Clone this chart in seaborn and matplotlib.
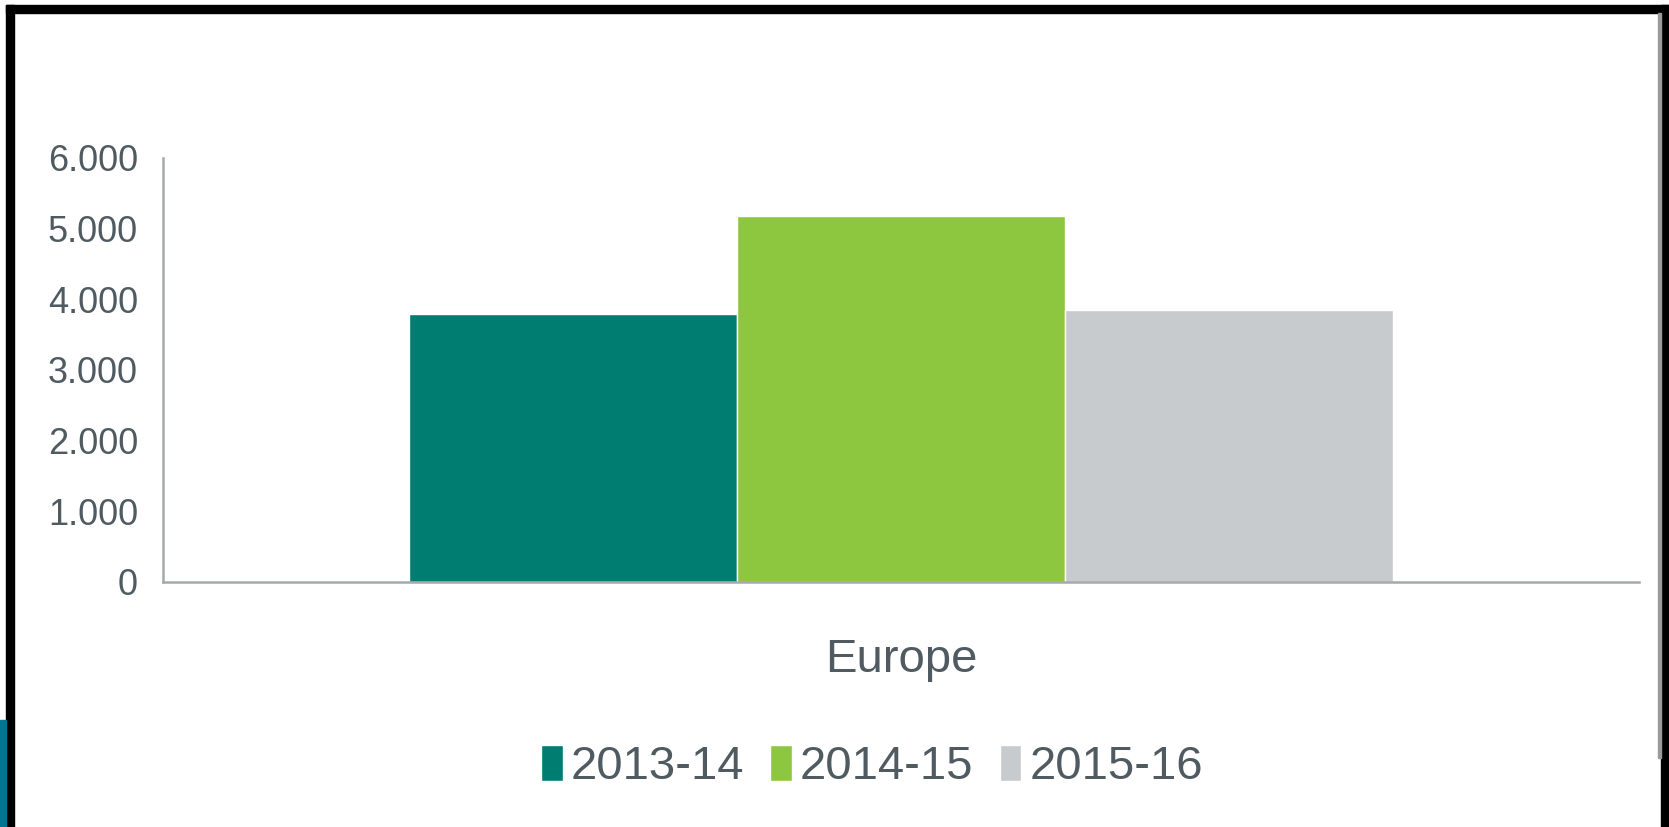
import matplotlib
matplotlib.use("Agg")
import matplotlib.pyplot as plt
from matplotlib.patches import Rectangle
from matplotlib.ticker import FuncFormatter
import seaborn as sns
import pandas as pd

# data
regions = ["Europe"]
years = ["2013-14", "2014-15", "2015-16"]
values = [3790, 5180, 3850]
colors = ["#007D71", "#8DC63F", "#C8CBCD"]
y_ticks = [0, 1000, 2000, 3000, 4000, 5000, 6000]

text_col = "#4f5a61"
axis_col = "#a6a8ab"

df = pd.DataFrame({
    "region": regions * len(years),
    "year": years,
    "value": values,
})

sns.set_style("white")
plt.rcParams["font.family"] = ["Liberation Sans Narrow", "Liberation Sans", "DejaVu Sans"]

fig = plt.figure(figsize=(16.69, 8.27), dpi=100)
ax = fig.add_axes([0.0977, 0.2963, 0.8844, 0.5127])

sns.barplot(data=df, x="region", y="value", hue="year", palette=colors,
            width=0.667, gap=0, saturation=1, ax=ax, legend=True)

ax.set_xlim(-0.5, 0.5)
ax.set_ylim(0, 6000)
ax.set_yticks(y_ticks)
ax.yaxis.set_major_formatter(FuncFormatter(lambda v, p: f"{int(v):,}".replace(",", ".")))
ax.set_xlabel("")
ax.set_ylabel("")

for side in ["top", "right"]:
    ax.spines[side].set_visible(False)
for side in ["left", "bottom"]:
    ax.spines[side].set_color(axis_col)
    ax.spines[side].set_linewidth(1.8)

ax.tick_params(axis="y", length=0, pad=18, labelsize=26, labelcolor=text_col)
ax.tick_params(axis="x", length=0, pad=40, labelsize=34, labelcolor=text_col)

# legend below the axis
handles, labels = ax.get_legend_handles_labels()
ax.get_legend().remove()
fig.legend(handles, labels, loc="center", bbox_to_anchor=(0.5225, 0.0725),
           ncol=3, frameon=False, fontsize=34, labelcolor=text_col,
           handlelength=0.46, handleheight=0.8, handletextpad=0.17,
           columnspacing=0.55, borderpad=0)

# screenshot frame
W, H = 1669, 827
def px_rect(x0, y0, x1, y1, color):
    fig.patches.append(Rectangle((x0 / W, 1 - y1 / H), (x1 - x0) / W, (y1 - y0) / H,
                                 transform=fig.transFigure, color=color, zorder=10))

px_rect(6, 5, 1669, 13, "black")
px_rect(6, 5, 14, 827, "black")
px_rect(1661, 5, 1669, 827, "black")
px_rect(1658, 13, 1661, 758, "#9a9a9a")
px_rect(0, 720, 6, 827, "#00758f")

fig.savefig("out.png", dpi=100)
